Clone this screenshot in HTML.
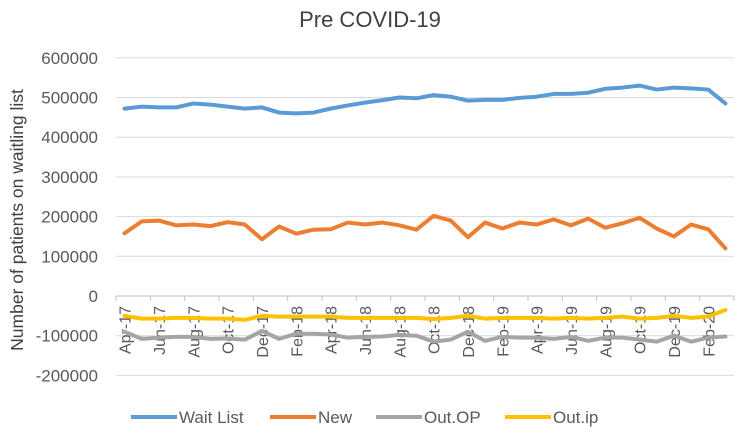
<!DOCTYPE html>
<html><head><meta charset="utf-8"><style>
body{margin:0;background:#fff;}
svg{display:block;font-family:"Liberation Sans",sans-serif;}
</style></head><body>
<svg id="chart" width="738" height="432">
<text x="370" y="27" text-anchor="middle" font-size="22" fill="#404040">Pre COVID-19</text>
<text transform="translate(23,220) rotate(-90)" text-anchor="middle" font-size="17.5" fill="#404040">Number of patients on waitling list</text>
<g id="grid"></g><g id="xaxis"></g><g id="series"></g><g id="legend"></g>
</svg>
<script>
const categories=["Apr-17","May-17","Jun-17","Jul-17","Aug-17","Sep-17","Oct-17","Nov-17","Dec-17","Jan-18","Feb-18","Mar-18","Apr-18","May-18","Jun-18","Jul-18","Aug-18","Sep-18","Oct-18","Nov-18","Dec-18","Jan-19","Feb-19","Mar-19","Apr-19","May-19","Jun-19","Jul-19","Aug-19","Sep-19","Oct-19","Nov-19","Dec-19","Jan-20","Feb-20","Mar-20"];
const waitList=[472,477,475,475,485,482,477,472,475,462,460,462,472,480,487,493,500,498,506,502,492,494,494,499,502,509,509,512,522,525,530,520,525,523,520,485].map(v=>v*1000);
const newRef=[158,188,190,178,180,176,186,180,143,175,157,167,168,185,180,185,178,167,202,190,148,185,170,185,180,193,178,195,172,183,197,170,150,180,168,120].map(v=>v*1000);
const outOP=[-90,-108,-105,-103,-103,-108,-107,-110,-88,-108,-95,-95,-97,-105,-103,-102,-98,-100,-115,-110,-90,-113,-103,-105,-105,-108,-103,-113,-105,-105,-110,-115,-100,-115,-105,-102].map(v=>v*1000);
const outIP=[-50,-57,-57,-55,-55,-57,-57,-60,-50,-52,-52,-52,-52,-55,-55,-55,-55,-55,-58,-55,-50,-57,-55,-55,-55,-57,-55,-57,-55,-52,-57,-55,-50,-55,-52,-35].map(v=>v*1000);
const yTicks=[600000,500000,400000,300000,200000,100000,0,-100000,-200000];
const seriesNames=["Wait List","New","Out.OP","Out.ip"];
const colors=["#5b9bd5","#ed7d31","#a5a5a5","#ffc000"];
const NS="http://www.w3.org/2000/svg";
const X0=116,X1=734,Y0=296,PX=0.000397;
const bw=(X1-X0)/categories.length;
const xs=i=>X0+bw*(i+0.5);
const ys=v=>Y0-v*PX;
function mk(t,a,p){const e=document.createElementNS(NS,t);for(const k in a)e.setAttribute(k,a[k]);p.appendChild(e);return e;}
const grid=document.getElementById('grid');
yTicks.forEach(t=>{
 const l=mk('line',{x1:X0,x2:X1,y1:ys(t),y2:ys(t),stroke:t===0?'#bfbfbf':'#d9d9d9','stroke-width':1},grid);
 
 
 const tx=mk('text',{x:98,y:ys(t)+6,'text-anchor':'end','font-size':17,fill:'#595959'},grid);
 tx.textContent=t;
 
 
});
const xa=document.getElementById('xaxis');
for(let i=0;i<=categories.length;i+=2){
 const tk=mk('line',{x1:X0+bw*i,x2:X0+bw*i,y1:Y0,y2:Y0+5,stroke:'#bfbfbf'},xa);
 
 
}
categories.forEach((c,i)=>{
 if(i%2)return;
 const t=mk('text',{transform:`translate(${xs(i)+6},${Y0+10}) rotate(-90)`,'text-anchor':'end','font-size':16,fill:'#595959'},xa);
 t.textContent=c;
 
 
});
const sg=document.getElementById('series');
[waitList,newRef,outOP,outIP].forEach((d,k)=>{
 const p=mk('polyline',{points:d.map((v,i)=>xs(i)+','+ys(v)).join(' '),fill:'none',stroke:colors[k],'stroke-width':4,'stroke-linejoin':'round','stroke-linecap':'round'},sg);
 
 
});
const lg=document.getElementById('legend');
const lx=[131,270,376,505];
seriesNames.forEach((n,k)=>{
 const g=mk('g',{},lg);
 
 
 mk('line',{x1:lx[k],x2:lx[k]+46,y1:417,y2:417,stroke:colors[k],'stroke-width':4},g);
 const t=mk('text',{x:lx[k]+48,y:423,'font-size':17,fill:'#595959'},g);
 t.textContent=n;
});
</script>
</body></html>
